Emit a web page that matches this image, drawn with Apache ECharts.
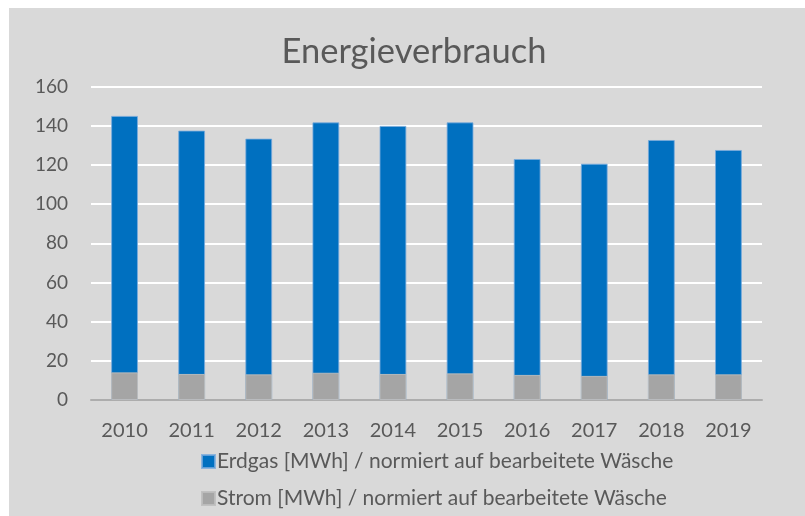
<!DOCTYPE html>
<html>
<head>
<meta charset="utf-8">
<script src="https://cdn.jsdelivr.net/npm/echarts@6/dist/echarts.min.js"></script>
<style>
html,body{margin:0;padding:0;background:#ffffff;}
#chart{width:805px;height:516px;}
</style>
</head>
<body>
<div id="chart"></div>
<script>
const years = ['2010','2011','2012','2013','2014','2015','2016','2017','2018','2019'];
const erdgas = [145.0, 137.5, 133.4, 141.7, 139.9, 141.7, 123.0, 120.6, 132.7, 127.6];
const strom = [14.1, 13.3, 13.1, 13.9, 13.3, 13.6, 12.8, 12.3, 13.1, 13.1];
const seriesNames = ['Erdgas [MWh] / normiert auf bearbeitete Wäsche', 'Strom [MWh] / normiert auf bearbeitete Wäsche'];
const titleText = 'Energieverbrauch';

const chart = echarts.init(document.getElementById('chart'), null, {renderer:'canvas'});
const font = 'Lato, "Open Sans", sans-serif';
const legendCommon = {
  orient: 'horizontal', left: 196, itemWidth: 13, itemHeight: 13, icon: 'rect',
  textStyle: {fontFamily: font, fontSize: 21, color: '#595959', padding: [0,0,0,-3]}
};
chart.setOption({
  animation: false,
  graphic: [{
    type: 'rect', z: -10, silent: true,
    shape: {x: 9, y: 8, width: 796, height: 508},
    style: {fill: '#D9D9D9'}
  }],
  title: {
    text: titleText, left: 409, top: 29, textAlign: 'center',
    textStyle: {fontFamily: font, fontSize: 34.5, fontWeight: 'normal', color: '#595959'}
  },
  legend: [
    Object.assign({}, legendCommon, {top: 446, data: [seriesNames[0]]}),
    Object.assign({}, legendCommon, {top: 483, data: [seriesNames[1]]})
  ],
  grid: {left: 91, right: 43, top: 86.5, bottom: 116, containLabel: false},
  xAxis: {
    type: 'category', data: years,
    axisLine: {lineStyle: {color: '#ADADAD', width: 2}},
    axisTick: {show: false},
    axisLabel: {fontFamily: font, fontSize: 20, color: '#595959', margin: 21}
  },
  yAxis: {
    type: 'value', min: 0, max: 160, interval: 20,
    axisLine: {show: false}, axisTick: {show: false},
    splitLine: {lineStyle: {color: '#FFFFFF', width: 2}},
    axisLabel: {fontFamily: font, fontSize: 19, color: '#595959', margin: 23}
  },
  series: [
    {
      name: seriesNames[0], type: 'bar', data: erdgas, barWidth: '40%', barGap: '-100%',
      itemStyle: {color: '#0070C0', borderColor: 'rgba(120,170,220,0.8)', borderWidth: 1}
    },
    {
      name: seriesNames[1], type: 'bar', data: strom, barWidth: '40%', barGap: '-100%',
      itemStyle: {color: '#A5A5A5', borderColor: 'rgba(190,190,190,0.9)', borderWidth: 1}
    }
  ]
});
</script>
</body>
</html>
